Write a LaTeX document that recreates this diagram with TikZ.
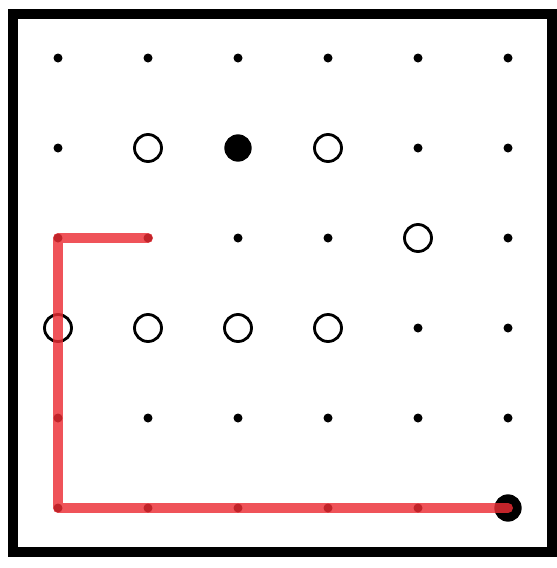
\documentclass[tikz,border=0pt]{standalone}

\tikzset{every picture/.style={line width=0.75pt}}
\tikzset{
  smalldot/.style={circle,fill=black,inner sep=0pt,minimum size=6.75pt},
  ringdot/.style={circle,draw=black,line width=2.1pt,inner sep=0pt,minimum size=20.25pt},
  bigdot/.style={circle,fill=black,inner sep=0pt,minimum size=20.5pt},
  redpath/.style={draw={rgb, 255:red, 236; green, 45; blue, 52},draw opacity=0.82,line width=7.5pt,line cap=round,line join=round}
}

\begin{document}
\begin{tikzpicture}[x=0.75pt,y=0.75pt,yscale=-1,xscale=1]
\useasboundingbox (0,0) rectangle (557,568);

%Grid points
\foreach \i in {1,...,6}
  \foreach \j in {1,...,6}
    \coordinate (g\i\j) at ({58+90*(\i-1)},{58+90*(\j-1)});

%Shape: Rectangle
\draw [line width=7.5pt] (13,13.5) rectangle (552,552);

%Small dots
\foreach \c in {11,21,31,41,51,61,12,52,62,13,23,33,43,63,54,64,15,25,35,45,55,65,16,26,36,46,56}
  \node [smalldot] (d\c) at (g\c) {};

%Open circles
\foreach \c in {22,42,53,14,24,34,44}
  \node [ringdot] (r\c) at (g\c) {};

%Filled circles
\node [bigdot] (b32) at (g32) {};
\node [bigdot] (b66) at (g66) {};

%Red path
\draw [redpath] (d23.center) -- (d13.center) -- (d16.center) -- (b66.center);

\end{tikzpicture}
\end{document}
